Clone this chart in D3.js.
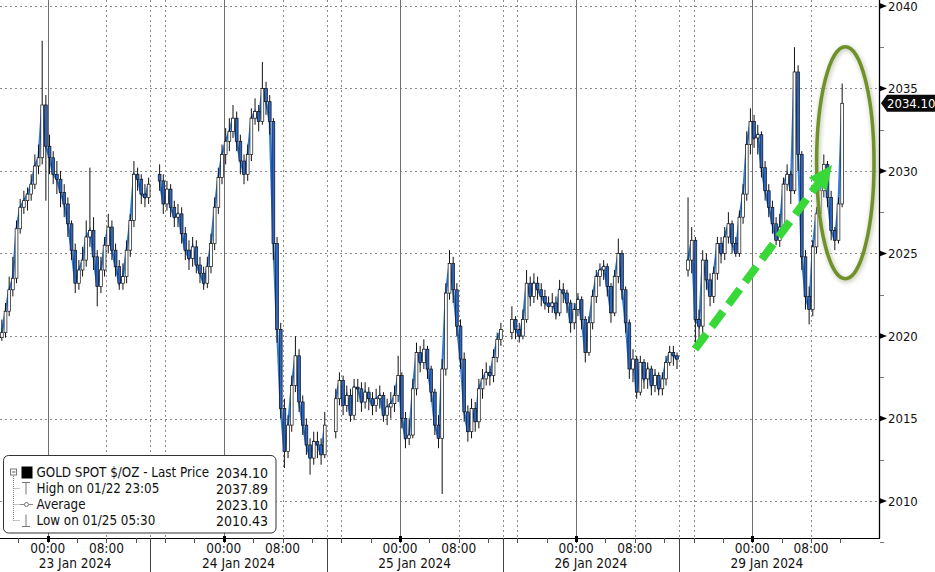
<!DOCTYPE html>
<html><head><meta charset="utf-8">
<script src="https://cdn.jsdelivr.net/npm/d3@7"></script>
<style>
body{margin:0;background:#fff}
svg{display:block}
text{font-family:"DejaVu Sans Condensed","DejaVu Sans",sans-serif}
</style>
</head><body>
<svg id="chart" width="935" height="572"></svg>
<script>
// ---------------- DATA ----------------
// time in hours since 23 Jan 2024 00:00, weekend removed (29 Jan follows 26 Jan)
const dayLabels = ["23 Jan 2024", "24 Jan 2024", "25 Jan 2024", "26 Jan 2024", "29 Jan 2024"];
const timeLabels = ["00:00", "08:00"];
const yTicks = [2010, 2015, 2020, 2025, 2030, 2035, 2040];
const sessionStarts = [-6.5, 15, 39, 63, 87];
const sessionOpens = [2019.9, 2029.8, 2014.2, 2020.2, 2024.0];

const closes1 = [2020.2,2021.5,2022.8,2023.5,2026.5,2027.8,2028.2,2028.6,2029.2,2030.3,2030.8,2034.0,2031.5,2030.8,2029.8,2029.5,2028.7,2028.0,2026.8,2025.2,2023.2,2024.0,2024.6,2026.0,2026.4,2024.8,2023.0,2024.0,2025.5,2026.6,2025.2,2024.2,2023.2,2023.6,2025.2,2027.0,2029.8,2029.5,2028.6,2028.4,2029.2];
const highs1  = [2021.0,2022.0,2023.6,2024.8,2027.0,2028.3,2028.8,2029.0,2029.8,2031.0,2031.6,2037.89,2034.6,2032.2,2031.2,2030.6,2030.0,2029.2,2028.4,2027.0,2025.6,2024.6,2025.4,2027.0,2030.2,2027.2,2025.2,2024.8,2026.0,2027.4,2027.0,2025.6,2024.6,2024.4,2025.8,2027.4,2030.6,2030.2,2029.8,2029.2,2029.6];
const lows1   = [2019.7,2019.9,2021.2,2022.4,2023.2,2026.2,2027.4,2027.6,2028.2,2028.9,2029.8,2030.4,2028.2,2029.8,2029.2,2028.6,2027.8,2027.2,2026.0,2024.6,2022.6,2022.8,2023.6,2024.2,2025.4,2024.0,2021.8,2022.6,2023.6,2025.0,2024.6,2023.6,2022.8,2022.8,2023.2,2024.8,2026.6,2028.8,2028.0,2027.8,2028.0];

const closes2 = [2029.4,2028.0,2028.9,2027.8,2027.2,2027.4,2026.2,2025.2,2024.7,2025.4,2024.3,2023.8,2023.2,2024.2,2025.6,2027.8,2029.6,2031.0,2031.8,2032.4,2033.2,2031.8,2030.6,2029.8,2031.0,2033.2,2033.6,2033.0,2035.0,2034.2,2033.0,2025.6,2020.4,2015.6,2013.0,2014.6,2017.0,2018.8,2016.0,2014.6,2013.4,2012.6,2013.6,2013.4,2012.8,2014.6];
const highs2  = [2030.4,2029.8,2029.4,2029.2,2028.2,2028.0,2027.8,2026.6,2025.8,2026.0,2025.8,2024.8,2024.2,2024.8,2026.2,2028.4,2030.2,2031.6,2032.6,2033.2,2034.0,2033.6,2032.2,2031.0,2031.6,2033.8,2034.4,2034.0,2036.6,2035.4,2034.6,2033.2,2026.0,2020.8,2016.2,2015.2,2017.6,2020.0,2019.2,2016.4,2015.0,2013.8,2014.2,2014.2,2013.8,2015.4];
const lows2   = [2028.8,2027.4,2027.6,2027.2,2026.6,2026.6,2025.6,2024.6,2024.0,2024.2,2023.8,2023.2,2022.8,2022.9,2023.8,2025.2,2027.4,2029.2,2030.4,2031.2,2032.0,2031.2,2029.8,2029.2,2029.4,2030.6,2032.8,2032.4,2032.8,2033.4,2032.2,2024.6,2019.6,2015.0,2012.0,2012.6,2014.2,2016.6,2015.4,2014.0,2012.8,2011.6,2012.2,2012.6,2012.2,2012.6];

const closes3 = [2016.2,2017.3,2015.8,2016.4,2015.2,2016.9,2016.8,2016.0,2016.6,2016.2,2015.8,2016.2,2016.4,2015.2,2015.7,2015.9,2016.4,2017.6,2015.0,2013.8,2014.0,2016.8,2019.0,2018.4,2019.2,2018.0,2016.6,2014.6,2013.8,2018.0,2022.6,2024.4,2022.8,2020.6,2018.6,2015.4,2014.2,2015.6,2014.8,2016.8,2017.4,2017.8,2017.6,2018.7,2019.8,2020.4];
const highs3  = [2016.8,2017.8,2017.6,2017.0,2016.8,2017.4,2017.4,2017.2,2017.2,2016.9,2016.6,2016.8,2017.0,2016.6,2016.2,2016.6,2017.0,2018.8,2017.8,2015.4,2015.0,2017.4,2019.6,2019.4,2019.8,2019.4,2018.2,2016.8,2015.2,2018.6,2023.2,2025.2,2024.8,2023.2,2021.0,2019.0,2015.8,2016.2,2016.0,2017.4,2018.0,2018.4,2018.2,2019.2,2020.2,2020.8];
const lows3   = [2013.8,2015.8,2015.2,2015.4,2014.8,2014.9,2016.0,2015.4,2015.6,2015.5,2015.2,2015.4,2015.6,2014.8,2014.6,2015.0,2015.4,2016.0,2014.4,2013.2,2013.4,2013.8,2016.4,2017.8,2018.0,2017.4,2016.0,2014.0,2013.2,2010.43,2017.6,2022.2,2022.0,2020.0,2018.0,2014.8,2013.6,2013.8,2014.2,2014.4,2016.2,2017.0,2017.0,2017.2,2018.4,2019.4];

const closes4 = [2021.0,2020.4,2020.0,2021.0,2023.2,2022.4,2023.2,2022.8,2022.4,2022.0,2021.8,2022.0,2021.4,2022.8,2022.6,2022.0,2020.8,2021.6,2022.2,2021.0,2019.0,2020.8,2022.4,2023.6,2024.0,2024.2,2023.0,2021.4,2023.6,2025.0,2022.8,2020.8,2018.0,2018.6,2016.6,2018.4,2017.4,2018.0,2017.0,2017.6,2016.8,2017.4,2018.4,2019.0,2018.8,2018.6];
const highs4  = [2021.8,2021.2,2020.8,2021.6,2024.0,2023.6,2023.8,2023.6,2023.2,2022.8,2022.4,2022.6,2022.4,2023.4,2023.2,2022.8,2022.2,2022.0,2022.6,2022.4,2021.2,2021.2,2022.8,2024.0,2024.4,2024.6,2024.4,2023.2,2024.0,2025.9,2025.2,2023.0,2021.0,2019.2,2018.8,2018.8,2018.6,2018.4,2018.2,2018.0,2017.8,2017.8,2018.8,2019.4,2019.4,2019.0];
const lows4   = [2019.8,2019.8,2019.6,2019.8,2020.8,2021.8,2022.0,2022.2,2021.8,2021.6,2021.4,2021.4,2021.0,2021.2,2022.0,2021.4,2020.2,2020.4,2021.2,2020.4,2018.4,2018.8,2020.4,2022.0,2023.0,2023.4,2022.4,2020.8,2021.2,2023.2,2022.2,2020.2,2017.4,2017.2,2016.2,2016.4,2016.8,2016.8,2016.4,2016.6,2016.4,2016.4,2017.0,2018.2,2018.2,2018.0];

const closes5 = [2024.6,2025.8,2021.0,2020.6,2024.6,2023.4,2022.4,2023.8,2025.6,2025.0,2026.0,2026.8,2025.6,2025.0,2027.2,2028.6,2031.6,2033.0,2032.0,2032.2,2030.2,2028.8,2027.8,2026.8,2025.8,2026.6,2029.2,2029.8,2028.8,2036.0,2031.0,2024.8,2022.4,2021.6,2025.4,2027.4,2028.8,2030.4,2028.4,2026.4,2025.8,2028.0,2034.1];
const highs5  = [2028.4,2026.6,2026.0,2021.6,2025.2,2025.0,2023.8,2024.2,2026.0,2026.0,2026.6,2027.5,2027.0,2026.0,2027.6,2029.2,2032.4,2033.8,2033.4,2032.8,2032.4,2030.6,2029.2,2028.2,2027.2,2027.4,2029.6,2030.4,2030.0,2037.5,2036.4,2031.2,2025.2,2023.0,2025.8,2027.8,2029.4,2031.0,2030.6,2028.8,2026.6,2028.4,2035.3];
const lows5   = [2023.6,2023.8,2019.3,2019.6,2020.2,2022.8,2021.8,2022.0,2023.4,2024.4,2024.6,2025.6,2025.0,2024.8,2024.8,2026.8,2028.2,2031.0,2031.4,2031.0,2029.6,2028.2,2027.2,2026.2,2025.5,2025.4,2026.4,2028.8,2028.0,2028.6,2030.0,2024.0,2021.6,2020.7,2021.2,2025.0,2027.0,2028.4,2027.8,2025.8,2025.2,2025.6,2027.8];

const legendLabels = ["GOLD SPOT $/OZ - Last Price", "High on 01/22 23:05", "Average", "Low on 01/25 05:30"];
const legendValues = ["2034.10", "2037.89", "2023.10", "2010.43"];
const lastPrice = 2034.10;

// annotations in data units (hours, price)
const ellipseCenter = [108.68, 2030.5];
const ellipseRadii = [3.91, 7.03];
const arrowFrom = [88.2, 2019.2];
const arrowTo = [106.87, 2030.36];

// ---------------- CHART ----------------
const W = 935, H = 572;
const plotRight = 879, plotBottom = 538;
const svg = d3.select("#chart");
svg.append("rect").attr("width", W).attr("height", H).attr("fill", "#fff");

const x = d3.scaleLinear().domain([-6.5, 113.27]).range([0, plotRight]);
const y = d3.scaleLinear().domain([2007.76, 2040.36]).range([plotBottom, 0]);

const sessions = [
  {start: sessionStarts[0], open: sessionOpens[0], c: closes1, h: highs1, l: lows1},
  {start: sessionStarts[1], open: sessionOpens[1], c: closes2, h: highs2, l: lows2},
  {start: sessionStarts[2], open: sessionOpens[2], c: closes3, h: highs3, l: lows3},
  {start: sessionStarts[3], open: sessionOpens[3], c: closes4, h: highs4, l: lows4},
  {start: sessionStarts[4], open: sessionOpens[4], c: closes5, h: highs5, l: lows5}
];
const candles = [];
sessions.forEach((s, si) => {
  let prev = s.open;
  s.c.forEach((c, i) => {
    candles.push({s: si, t: s.start + 0.5 * i + 0.25, o: prev, c: c, h: s.h[i], l: s.l[i]});
    prev = c;
  });
});

// gridlines
const grid = svg.append("g");
grid.selectAll(".hg").data(yTicks).join("line")
  .attr("x1", 0).attr("x2", plotRight).attr("y1", d => Math.round(y(d)) + 0.5).attr("y2", d => Math.round(y(d)) + 0.5)
  .attr("stroke", "#8a8a8a").attr("stroke-width", 1).attr("stroke-dasharray", "2,3");

const midnights = [0, 24, 48, 72, 96];
const dotted = [8, 14, 16, 32, 38, 40, 56, 62, 64, 80, 86, 88, 104];
grid.selectAll(".vd").data(dotted).join("line")
  .attr("x1", d => Math.round(x(d)) + 0.5).attr("x2", d => Math.round(x(d)) + 0.5)
  .attr("y1", 0).attr("y2", plotBottom)
  .attr("stroke", "#8a8a8a").attr("stroke-dasharray", "2,3");
grid.selectAll(".vs").data(midnights).join("line")
  .attr("x1", d => Math.round(x(d)) + 0.5).attr("x2", d => Math.round(x(d)) + 0.5)
  .attr("y1", 0).attr("y2", plotBottom)
  .attr("stroke", "#6e6e6e").attr("stroke-width", 1);

// close line (blue)
const line = d3.line().x(d => x(d.t)).y(d => y(d.c));
const gLine = svg.append("g");
sessions.forEach((s, si) => {
  gLine.append("path").datum(candles.filter(d => d.s === si))
    .attr("d", line).attr("fill", "none").attr("stroke", "#2f7fe0").attr("stroke-width", 2.2);
});

// candles
const gC = svg.append("g");
gC.selectAll(".wick").data(candles).join("line")
  .attr("x1", d => x(d.t)).attr("x2", d => x(d.t))
  .attr("y1", d => y(d.h)).attr("y2", d => y(d.l))
  .attr("stroke", "#111").attr("stroke-width", 1);
gC.selectAll(".body").data(candles).join("rect")
  .attr("x", d => x(d.t) - 1.4).attr("width", 2.8)
  .attr("y", d => y(Math.max(d.o, d.c)))
  .attr("height", d => Math.max(1, Math.abs(y(d.o) - y(d.c))))
  .attr("fill", d => d.c >= d.o ? "#fff" : "#2e66c4")
  .attr("stroke", "#111").attr("stroke-width", 0.7);

// ---------------- ANNOTATIONS ----------------
const defs = svg.append("defs");
defs.append("filter").attr("id", "blur").append("feGaussianBlur").attr("stdDeviation", 2);
const ecx = x(ellipseCenter[0]), ecy = y(ellipseCenter[1]);
const erx = x(ellipseCenter[0] + ellipseRadii[0]) - ecx, ery = ecy - y(ellipseCenter[1] + ellipseRadii[1]);
svg.append("ellipse").attr("cx", ecx + 1).attr("cy", ecy + 1.5).attr("rx", erx).attr("ry", ery)
  .attr("fill", "none").attr("stroke", "#c9cfc0").attr("stroke-width", 5).attr("filter", "url(#blur)");
svg.append("ellipse").attr("cx", ecx).attr("cy", ecy).attr("rx", erx).attr("ry", ery)
  .attr("fill", "none").attr("stroke", "#6f9127").attr("stroke-width", 3.5);

const ax0 = x(arrowFrom[0]), ay0 = y(arrowFrom[1]), ax1 = x(arrowTo[0]), ay1 = y(arrowTo[1]);
const ang = Math.atan2(ay1 - ay0, ax1 - ax0);
const headLen = 24, headW = 22;
const bx = ax1 - headLen * Math.cos(ang), by = ay1 - headLen * Math.sin(ang);
svg.append("line").attr("x1", ax0).attr("y1", ay0).attr("x2", bx).attr("y2", by)
  .attr("stroke", "#38d838").attr("stroke-width", 8).attr("stroke-dasharray", "19,9");
const px = -Math.sin(ang), py = Math.cos(ang);
svg.append("polygon")
  .attr("points", [[ax1, ay1], [bx + px * headW / 2, by + py * headW / 2], [bx - px * headW / 2, by - py * headW / 2]].map(p => p.join(",")).join(" "))
  .attr("fill", "#38d838");

// ---------------- AXES ----------------
// right axis
const gy = svg.append("g");
gy.append("line").attr("x1", plotRight + 0.5).attr("x2", plotRight + 0.5).attr("y1", 0).attr("y2", plotBottom + 0.5)
  .attr("stroke", "#000").attr("stroke-width", 1.3);
const minorY = d3.range(2007.5, 2040.1, 2.5).filter(v => v % 5 !== 0);
gy.selectAll(".my").data(minorY).join("line")
  .attr("x1", plotRight + 1).attr("x2", plotRight + 5)
  .attr("y1", d => Math.round(y(d)) + 0.5).attr("y2", d => Math.round(y(d)) + 0.5)
  .attr("stroke", "#777");
gy.selectAll(".tri").data(yTicks).join("path")
  .attr("d", d => `M${plotRight + 1},${y(d) - 2.8}L${plotRight + 8},${y(d)}L${plotRight + 1},${y(d) + 2.8}Z`)
  .attr("fill", "#000");
gy.selectAll(".yl").data(yTicks).join("text")
  .attr("x", plotRight + 9).attr("y", d => Math.max(y(d), 6.5)).attr("dy", "0.36em")
  .attr("font-size", 13).attr("fill", "#111").text(d => d);

// last price tag
const ly = y(lastPrice);
svg.append("path")
  .attr("d", `M${plotRight + 2},${ly}L${plotRight + 8},${ly - 8.5}L${W},${ly - 8.5}L${W},${ly + 8.5}L${plotRight + 8},${ly + 8.5}Z`)
  .attr("fill", "#0a0a0a");
svg.append("text").attr("x", plotRight + 8).attr("y", ly).attr("dy", "0.36em")
  .attr("font-size", 13).attr("fill", "#fff").text(lastPrice.toFixed(2));

// bottom axis
const gx = svg.append("g");
gx.append("line").attr("x1", 0).attr("x2", plotRight + 1).attr("y1", plotBottom + 0.5).attr("y2", plotBottom + 0.5)
  .attr("stroke", "#000").attr("stroke-width", 1.2);
const minorX = d3.range(-4, 109, 4);
gx.selectAll(".mx").data(minorX).join("line")
  .attr("x1", d => Math.round(x(d)) + 0.5).attr("x2", d => Math.round(x(d)) + 0.5)
  .attr("y1", plotBottom).attr("y2", plotBottom + 5)
  .attr("stroke", "#555");
gx.selectAll(".bx").data(midnights).join("rect")
  .attr("x", d => Math.round(x(d)) - 1).attr("width", 3).attr("y", plotBottom - 2).attr("height", 6)
  .attr("fill", "#000");
const separators = [14, 38, 62, 86];
gx.selectAll(".sep").data(separators).join("line")
  .attr("x1", d => Math.round(x(d)) + 0.5).attr("x2", d => Math.round(x(d)) + 0.5)
  .attr("y1", plotBottom).attr("y2", H)
  .attr("stroke", "#444");
const hourTicks = [];
midnights.forEach(m => { hourTicks.push({t: m, label: timeLabels[0]}); hourTicks.push({t: m + 8, label: timeLabels[1]}); });
gx.selectAll(".hl").data(hourTicks).join("text")
  .attr("x", d => x(d.t)).attr("y", 553).attr("text-anchor", "middle")
  .attr("font-size", 13.5).attr("fill", "#111").text(d => d.label);
const bounds = [x.domain()[0], ...separators, 110];
gx.selectAll(".dl").data(dayLabels).join("text")
  .attr("x", (d, i) => x((bounds[i] + bounds[i + 1]) / 2)).attr("y", 568).attr("text-anchor", "middle")
  .attr("font-size", 13.5).attr("fill", "#111").text(d => d);

// ---------------- LEGEND ----------------
const lg = svg.append("g");
lg.append("rect").attr("x", 3.5).attr("y", 455.5).attr("width", 272.5).attr("height", 77.5).attr("rx", 5)
  .attr("fill", "#fff").attr("stroke", "#333").attr("stroke-width", 1);
const rowY = [472.5, 488.5, 504.5, 520.5];
// tree lines
lg.append("line").attr("x1", 13.5).attr("x2", 13.5).attr("y1", 476).attr("y2", rowY[3])
  .attr("stroke", "#888").attr("stroke-dasharray", "1,1");
lg.selectAll(".br").data(rowY.slice(1)).join("line")
  .attr("x1", 13.5).attr("x2", 20).attr("y1", d => d).attr("y2", d => d)
  .attr("stroke", "#888").attr("stroke-dasharray", "1,1");
lg.append("rect").attr("x", 10.5).attr("y", rowY[0] - 3.5).attr("width", 6).attr("height", 6)
  .attr("fill", "#fff").attr("stroke", "#777");
lg.append("line").attr("x1", 12).attr("x2", 15.5).attr("y1", rowY[0] - 0.5).attr("y2", rowY[0] - 0.5).attr("stroke", "#555");
lg.append("rect").attr("x", 21.5).attr("y", rowY[0] - 6).attr("width", 11).attr("height", 12).attr("fill", "#000");
// high symbol
lg.append("path").attr("d", `M22,${rowY[1] - 6}H30M26,${rowY[1] - 6}V${rowY[1] + 6}`).attr("stroke", "#777").attr("fill", "none");
// average symbol
lg.append("line").attr("x1", 20).attr("x2", 33).attr("y1", rowY[2]).attr("y2", rowY[2]).attr("stroke", "#888");
lg.append("circle").attr("cx", 26.5).attr("cy", rowY[2]).attr("r", 2).attr("fill", "#fff").attr("stroke", "#777");
// low symbol
lg.append("path").attr("d", `M22,${rowY[3] + 6}H30M26,${rowY[3] - 6}V${rowY[3] + 6}`).attr("stroke", "#777").attr("fill", "none");

lg.selectAll(".lt").data(legendLabels).join("text")
  .attr("x", 36.5).attr("y", (d, i) => rowY[i]).attr("dy", "0.36em")
  .attr("font-size", 13.3).attr("fill", "#111").text(d => d);
lg.selectAll(".lv").data(legendValues).join("text")
  .attr("x", 268).attr("y", (d, i) => rowY[i]).attr("dy", "0.36em").attr("text-anchor", "end")
  .attr("font-size", 14).attr("fill", "#111").text(d => d);
</script>
</body></html>
